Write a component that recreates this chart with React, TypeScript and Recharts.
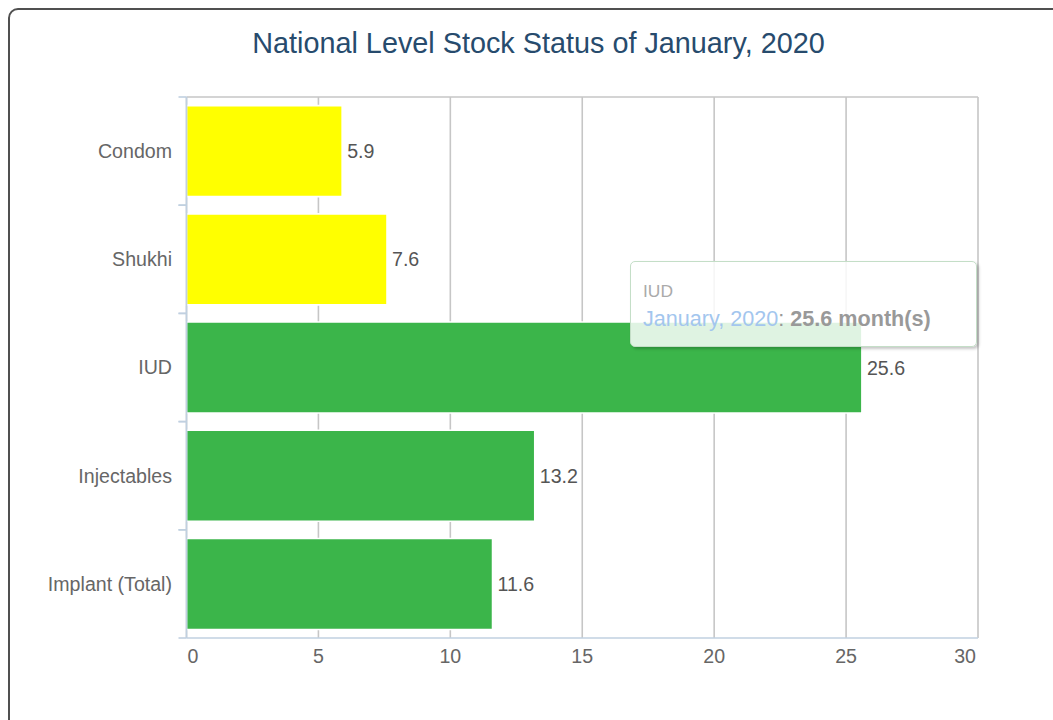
import React from "react";
import { BarChart, Bar, XAxis, YAxis, CartesianGrid, Cell, LabelList } from "recharts";

const categories = ["Condom", "Shukhi", "IUD", "Injectables", "Implant (Total)"];
const values = [5.9, 7.6, 25.6, 13.2, 11.6];
const xTicks = [0, 5, 10, 15, 20, 25, 30];
const titleText = "National Level Stock Status of January, 2020";
const periodLabel = "January, 2020";
const unitLabel = "month(s)";
const tooltipIndex = 2;

const barColors = ["#FFFF00", "#FFFF00", "#3BB54A", "#3BB54A", "#3BB54A"];

const data = categories.map((name, i) => ({ name, value: values[i] }));

const FONT = '"Liberation Sans", Arial, Helvetica, sans-serif';
const LABEL_SIZE = 19.6;
const Y_TICK_SIZE = 8;
const Y_TICK_MARGIN = 6.5;

const YTick = (props: any) => {
  const { x, y, payload } = props;
  const half = payload && payload.offset ? payload.offset : 54;
  const axisX = x + Y_TICK_MARGIN + Y_TICK_SIZE;
  return (
    <g>
      <line x1={axisX - Y_TICK_SIZE} x2={axisX} y1={y - half} y2={y - half} stroke="#C0D0E0" strokeWidth={1.6} />
      <line x1={axisX - Y_TICK_SIZE} x2={axisX} y1={y + half} y2={y + half} stroke="#C0D0E0" strokeWidth={1.6} />
      <text x={x} y={y} dy="0.355em" textAnchor="end" fill="#666" fontSize={LABEL_SIZE} fontFamily={FONT}>
        {payload.value}
      </text>
    </g>
  );
};

const XTick = (props: any) => {
  const { x, y, payload, index } = props;
  const last = xTicks.length - 1;
  let anchor: "start" | "middle" | "end" = "middle";
  let dx = 0;
  if (index === 0) {
    anchor = "start";
    dx = 1;
  } else if (index === last) {
    anchor = "end";
    dx = -2;
  }
  return (
    <text x={x + dx} y={y} dy="0.71em" textAnchor={anchor} fill="#666" fontSize={LABEL_SIZE} fontFamily={FONT}>
      {payload.value}
    </text>
  );
};

export default function App() {
  const tipName = categories[tooltipIndex];
  const tipValue = values[tooltipIndex];
  return (
    <div style={{ position: "fixed", left: 0, top: 0, width: 1053, height: 720, overflow: "hidden", background: "#fff", fontFamily: FONT }}>
      <div
        style={{
          position: "absolute",
          left: 8,
          top: 8,
          width: 1061,
          height: 760,
          boxSizing: "border-box",
          border: "2px solid #505050",
          borderRadius: 10,
          background: "#fff",
        }}
      />
      <div
        style={{
          position: "absolute",
          left: 8,
          width: 1061,
          top: 28.6,
          textAlign: "center",
          fontSize: 28.8,
          lineHeight: 1,
          color: "#274b6d",
          whiteSpace: "nowrap",
        }}
      >
        {titleText}
      </div>
      <div style={{ position: "absolute", left: 0, top: 0 }}>
        <BarChart
          width={1053}
          height={720}
          data={data}
          layout="vertical"
          margin={{ top: 97, right: 75, bottom: 42, left: 0 }}
          barCategoryGap="8%"
        >
          <CartesianGrid
            stroke="#C6C6C6"
            strokeWidth={1.6}
            horizontal={true}
            vertical={true}
            horizontalCoordinatesGenerator={(p: any) => [p.offset.top]}
          />
          <XAxis
            type="number"
            domain={[0, 30]}
            ticks={xTicks}
            interval={0}
            height={40}
            axisLine={{ stroke: "#C0D0E0", strokeWidth: 1.6 }}
            tickLine={false}
            tickSize={6}
            tickMargin={5.5}
            tick={<XTick />}
          />
          <YAxis
            type="category"
            dataKey="name"
            width={186.5}
            axisLine={{ stroke: "#C0D0E0", strokeWidth: 1.6 }}
            tickLine={false}
            tickSize={Y_TICK_SIZE}
            tickMargin={Y_TICK_MARGIN}
            interval={0}
            tick={<YTick />}
          />
          <Bar dataKey="value" isAnimationActive={false} stroke="#fff" strokeWidth={1.6}>
            {data.map((d, i) => (
              <Cell key={d.name} fill={barColors[i]} />
            ))}
            <LabelList
              dataKey="value"
              position="right"
              offset={5}
              fill="#555"
              fontSize={LABEL_SIZE}
              fontFamily={FONT}
            />
          </Bar>
        </BarChart>
      </div>
      <div
        style={{
          position: "absolute",
          left: 630,
          top: 261,
          width: 347,
          height: 86,
          boxSizing: "border-box",
          border: "1.6px solid #c4dec7",
          borderRadius: 5,
          background: "rgba(255,255,255,0.84)",
          boxShadow: "2px 2px 3px rgba(0,0,0,0.22)",
        }}
      >
        <div style={{ position: "absolute", left: 12, top: 21, fontSize: 17.4, lineHeight: 1, color: "#aaa", whiteSpace: "nowrap" }}>
          {tipName}
        </div>
        <div style={{ position: "absolute", left: 12, top: 45.5, fontSize: 21.6, lineHeight: 1, color: "#999", whiteSpace: "nowrap" }}>
          <span style={{ color: "#a3c6ee" }}>{periodLabel}</span>
          {": "}
          <b>
            {tipValue} {unitLabel}
          </b>
        </div>
      </div>
    </div>
  );
}
